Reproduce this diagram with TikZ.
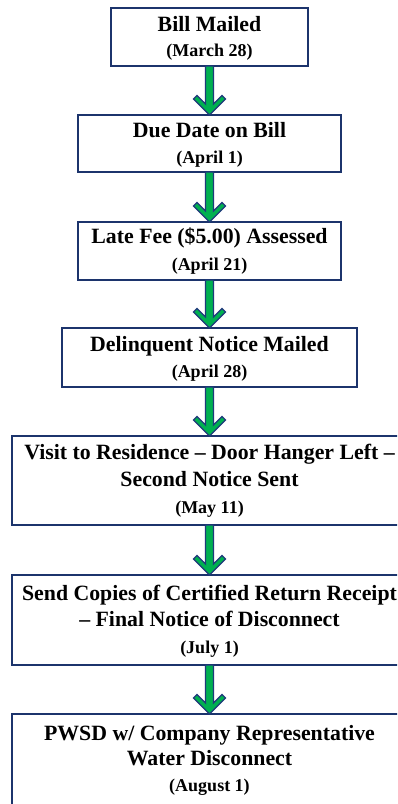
\documentclass[tikz,border=0pt]{standalone}
\usepackage{fontspec}
\setmainfont{Liberation Serif}
\usetikzlibrary{calc}
\definecolor{boxnavy}{RGB}{28,52,108}
\definecolor{arrgreen}{RGB}{0,176,80}
\definecolor{arrnavy}{RGB}{30,58,122}
\tikzset{
  stepbox/.style={draw=boxnavy, line width=2pt, fill=white, rectangle, inner sep=0pt, outer sep=0pt},
  titletext/.style={anchor=base, inner sep=0pt, font=\fontsize{21.8}{26}\selectfont\bfseries},
  datetext/.style={anchor=base, inner sep=0pt, font=\fontsize{18}{22}\selectfont\bfseries},
  chev/.style={fill=arrgreen, draw=arrnavy, line width=1.3pt, line join=miter}
}
\newcommand{\flowarrow}[2]{%
  \draw[chev] let \p1=(#1.south), \p2=(#2.north) in
    (\x1-4pt,\y1) -- (\x1-4pt,\y2+11pt) -- (\x1-12.5pt,\y2+19.5pt) -- (\x1-16pt,\y2+16pt)
    -- (\x2,\y2) -- (\x1+16pt,\y2+16pt) -- (\x1+12.5pt,\y2+19.5pt) -- (\x1+4pt,\y2+11pt)
    -- (\x1+4pt,\y1) -- cycle;}
\begin{document}
\begin{tikzpicture}[x=1pt,y=-1pt]
\clip (0,0) rectangle (397,804);
\fill[white] (0,0) rectangle (397,804);
% boxes
\node[stepbox, minimum width=197pt, minimum height=58pt] (b1) at (209.5,37) {};
\node[stepbox, minimum width=263pt, minimum height=57pt] (b2) at (209.5,143.5) {};
\node[stepbox, minimum width=263pt, minimum height=58pt] (b3) at (209.5,251) {};
\node[stepbox, minimum width=295pt, minimum height=59pt] (b4) at (209.5,357.5) {};
\node[stepbox, minimum width=395pt, minimum height=89pt] (b5) at (209.5,480.5) {};
\node[stepbox, minimum width=395pt, minimum height=90pt] (b6) at (209.5,620) {};
\node[stepbox, minimum width=395pt, minimum height=91pt] (b7) at (209.5,759.5) {};
% texts
\node[titletext] (t1a) at (209.5,31.7) {Bill Mailed};
\node[datetext]  (t1b) at (209.5,56.7) {(March 28)};
\node[titletext] (t2a) at (209.5,137.3) {Due Date on Bill};
\node[datetext]  (t2b) at (209.5,163.3) {(April 1)};
\node[titletext] (t3a) at (209.5,243.3) {Late Fee (\$5.00) Assessed};
\node[datetext]  (t3b) at (209.5,270) {(April 21)};
\node[titletext] (t4a) at (209.5,351) {Delinquent Notice Mailed};
\node[datetext]  (t4b) at (209.5,377.3) {(April 28)};
\node[titletext] (t5a) at (209.5,459.3) {Visit to Residence – Door Hanger Left –};
\node[titletext] (t5b) at (209.5,486.3) {Second Notice Sent};
\node[datetext]  (t5c) at (209.5,513.3) {(May 11)};
\node[titletext] (t6a) at (209.5,600) {Send Copies of Certified Return Receipt};
\node[titletext] (t6b) at (209.5,626.7) {– Final Notice of Disconnect};
\node[datetext]  (t6c) at (209.5,653.3) {(July 1)};
\node[titletext] (t7a) at (209.5,740) {PWSD w/ Company Representative};
\node[titletext] (t7b) at (209.5,765) {Water Disconnect};
\node[datetext]  (t7c) at (209.5,791.7) {(August 1)};
% arrows
\flowarrow{b1}{b2}
\flowarrow{b2}{b3}
\flowarrow{b3}{b4}
\flowarrow{b4}{b5}
\flowarrow{b5}{b6}
\flowarrow{b6}{b7}
\end{tikzpicture}
\end{document}
